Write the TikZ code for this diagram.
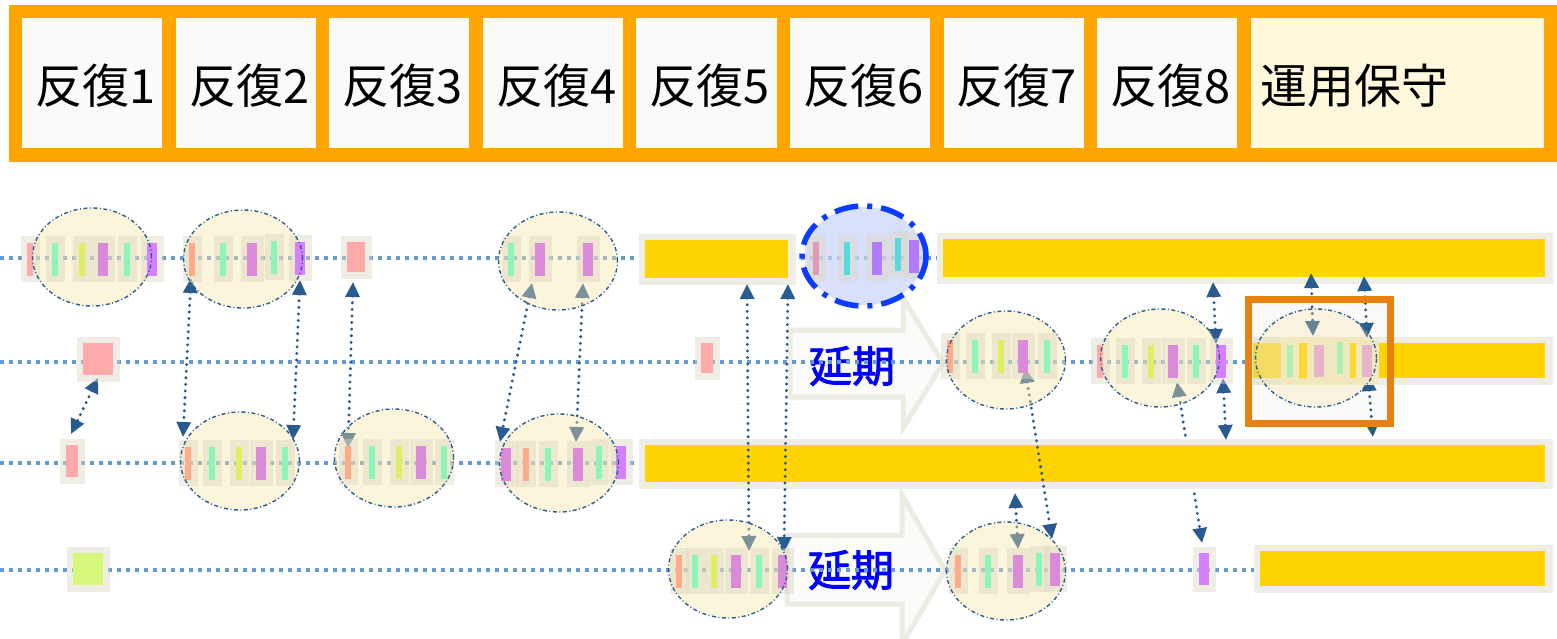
\documentclass[tikz,border=0pt]{standalone}
\usepackage{fontspec}
\newfontfamily\jp{Noto Sans CJK JP}
\newfontfamily\jpb[FakeBold=2]{Noto Sans CJK JP}
\usetikzlibrary{shapes.geometric,arrows.meta}
\definecolor{hdr}{HTML}{FFA500}
\definecolor{cellw}{HTML}{FAFAF8}
\definecolor{cellc}{HTML}{FFF8DC}
\definecolor{rowc}{HTML}{6699CC}
\definecolor{conc}{HTML}{2A5B8E}
\definecolor{ellc}{HTML}{F7E6A7}
\definecolor{ellb}{HTML}{2E5E8E}
\definecolor{bell}{HTML}{C9D3FA}
\definecolor{bellb}{HTML}{0A3CFF}
\definecolor{ibg}{HTML}{DCD8C4}
\definecolor{gbg}{HTML}{EEEEE6}
\definecolor{gold}{HTML}{FFD400}
\definecolor{afill}{HTML}{FBFBF9}
\definecolor{adraw}{HTML}{ECECE2}
\definecolor{obox}{HTML}{E98012}
\definecolor{pk}{HTML}{FFAAAA}
\definecolor{sal}{HTML}{FFAA88}
\definecolor{gr}{HTML}{8CF5B8}
\definecolor{ye}{HTML}{DCF062}
\definecolor{orc}{HTML}{DA8AD8}
\definecolor{pu}{HTML}{D580FF}
\definecolor{ygr}{HTML}{D6F87A}
\definecolor{bpk}{HTML}{E09AB4}
\definecolor{bcy}{HTML}{55DDDD}
\definecolor{bpu}{HTML}{B27AFF}
\definecolor{lorc}{HTML}{E0A0D8}
\definecolor{beig}{HTML}{EFE9CC}
\newcommand\itmx[5]{%
  \fill[ibg,fill opacity=.45] ({#3-#1/2-6.5},{#4-#2/2-6.5}) rectangle ({#3+#1/2+6.5},{#4+#2/2+6.5});
  \fill[#5] ({#3-#1/2},{#4-#2/2}) rectangle ({#3+#1/2},{#4+#2/2});}
\newcommand\itm[4]{\itmx{#1}{33}{#2}{#3}{#4}}
\newcommand\gbar[4]{%
  \fill[gbg] ({#1-6.5},{#2-6.5}) rectangle ({#3+7.5},{#4+6.5});
  \fill[gold] (#1,#2) rectangle (#3,#4);}
\newcommand\grp[4]{%
  \node[ellfill] (#1) at (#2,#3) {};
  #4
  \node[elldraw] at (#1) {};}
\begin{document}
\begin{tikzpicture}[x=1pt,y=-1pt,
  cell/.style={draw=hdr,line width=13.5pt,minimum height=143.5pt,inner sep=0pt,fill=cellw},
  hfont/.style={font=\jp\fontsize{47}{52}\selectfont,text=black,inner sep=0pt},
  ell/.style={ellipse,minimum width=119pt,minimum height=98pt,inner sep=0pt},
  ellfill/.style={ell,fill=ellc,fill opacity=.4},
  elldraw/.style={ell,draw=ellb,line width=1.4pt,dash pattern=on 4pt off 2.5pt on 1pt off 2.5pt},
  rowline/.style={draw=rowc,line width=4pt,dash pattern=on 4pt off 5pt},
  conn/.style={draw=conc,line width=3.3pt,line cap=round,dash pattern=on 0pt off 6.6pt,
    {Triangle[length=15pt,width=14pt]}-{Triangle[length=15pt,width=14pt]}},
  blk/.style={fill=afill,draw=adraw,line width=5pt,line join=miter},
  dlabel/.style={font=\jpb\fontsize{43}{46}\selectfont,text=blue,inner sep=0pt}]
\useasboundingbox (0,0) rectangle (1557,639);
\fill[white] (0,0) rectangle (1557,639);
% header
\node[cell,minimum width=153.56pt] (h1) at (92.3,83.25) {};
\node[cell,minimum width=153.56pt] (h2) at (245.8,83.25) {};
\node[cell,minimum width=153.56pt] (h3) at (399.4,83.25) {};
\node[cell,minimum width=153.56pt] (h4) at (553.0,83.25) {};
\node[cell,minimum width=153.56pt] (h5) at (706.5,83.25) {};
\node[cell,minimum width=153.56pt] (h6) at (860.1,83.25) {};
\node[cell,minimum width=153.56pt] (h7) at (1013.7,83.25) {};
\node[cell,minimum width=153.56pt] (h8) at (1167.2,83.25) {};
\node[cell,minimum width=306.5pt,fill=cellc] (h9) at (1397.25,83.25) {};
\node[hfont] (t1) at (96,86) {反復1};
\node[hfont] (t2) at (249.5,86) {反復2};
\node[hfont] (t3) at (403,86) {反復3};
\node[hfont] (t4) at (556.5,86) {反復4};
\node[hfont] (t5) at (710,86) {反復5};
\node[hfont] (t6) at (863.5,86) {反復6};
\node[hfont] (t7) at (1017,86) {反復7};
\node[hfont] (t8) at (1170.5,86) {反復8};
\node[hfont,anchor=west] (t9) at (1260,86) {運用保守};
% block arrows
\draw[blk] (790,330) -- (903,330) -- (903,298) -- (943,363) -- (903,428) -- (903,397) -- (790,397) -- cycle;
\draw[blk] (787,535) -- (902,535) -- (902,495) -- (945,570) -- (902,645) -- (902,604) -- (787,604) -- cycle;
\node[dlabel] (d1) at (852,366) {延期};
\node[dlabel] (d2) at (851,570) {延期};
% row lines
\coordinate (r1a) at (0,258); \coordinate (r1b) at (1557,258);
\coordinate (r2a) at (0,362); \coordinate (r2b) at (1557,362);
\coordinate (r3a) at (0,463); \coordinate (r3b) at (1557,463);
\coordinate (r4a) at (0,570); \coordinate (r4b) at (1557,570);
\draw[rowline] (r1a) -- (r1b);
\draw[rowline] (r2a) -- (r2b);
\draw[rowline] (r3a) -- (r3b);
\draw[rowline] (r4a) -- (r4b);
% connector under the bar
\coordinate (c11a) at (1177,382); \coordinate (c11b) at (1202,543);
\draw[conn] (c11a) -- (c11b);
% orange box fill
\fill[cellw] (1248.5,299.5) rectangle (1390.5,423.5);
% gold bars
\gbar{645}{240}{788}{278}
\gbar{943}{239}{1545}{277}
\gbar{1253}{343}{1545}{378}
\gbar{645}{445}{1545}{482}
\gbar{1260}{551}{1545}{586}
% connectors
\coordinate (c1a) at (98,378); \coordinate (c1b) at (71,434);
\coordinate (c2a) at (191,278); \coordinate (c2b) at (183,437);
\coordinate (c3a) at (300,280); \coordinate (c3b) at (293,440);
\coordinate (c4a) at (353,282); \coordinate (c4b) at (348,448);
\coordinate (c5a) at (532,283); \coordinate (c5b) at (500,442);
\coordinate (c6a) at (583,283); \coordinate (c6b) at (576,442);
\coordinate (c7a) at (747,284); \coordinate (c7b) at (749,551);
\coordinate (c8a) at (788,284); \coordinate (c8b) at (784,552);
\coordinate (c9a) at (1025,368); \coordinate (c9b) at (1052,539);
\coordinate (c10a) at (1015,493); \coordinate (c10b) at (1018,549);
\coordinate (c12a) at (1213,282); \coordinate (c12b) at (1216,344);
\coordinate (c13a) at (1223,378); \coordinate (c13b) at (1226,440);
\coordinate (c14a) at (1311,273); \coordinate (c14b) at (1313,336);
\coordinate (c15a) at (1364,276); \coordinate (c15b) at (1367,338);
\coordinate (c16a) at (1368,376); \coordinate (c16b) at (1373,437);
\foreach \n in {1,2,3,4,5,6,7,8,9,10,12,13,14,15,16} {\draw[conn] (c\n a) -- (c\n b);}
% row 1
\grp{e1}{92}{257}{\itm{6}{30}{259}{pk}\itm{6}{55}{259}{gr}\itm{6}{82}{259}{ye}\itm{10}{103}{259}{orc}\itm{6}{127}{259}{gr}\itm{10}{152}{259}{pu}}
\grp{e2}{243}{259}{\itm{6}{192}{259}{sal}\itm{6}{223}{259}{gr}\itm{10}{252}{259}{orc}\itm{6}{274}{257}{gr}\itm{10}{300}{258}{pu}}
\itmx{18}{30}{356}{257}{pk}
\grp{e3}{558}{261}{\itm{6}{511}{259}{gr}\itm{10}{540}{259}{orc}\itm{10}{588}{259}{orc}}
\node[ell,fill=bell,fill opacity=.7] (be) at (864,256) {};
\itm{6}{816}{258}{bpk}\itm{6}{847}{258}{bcy}\itm{10}{877}{258}{bpu}\itm{6}{898}{254}{bcy}\itm{10}{914}{256}{bpu}
\node[ell,minimum width=124pt,minimum height=100pt,draw=bellb,line width=5.5pt,dash pattern=on 24pt off 9pt on 5pt off 9pt] (beb) at (864,256) {};
% row 2
\itmx{30}{32}{98}{359}{pk}
\itmx{12}{30}{707}{358}{pk}
\grp{e4}{1006}{360}{\itm{6}{950}{356}{sal}\itm{6}{975}{356}{gr}\itm{6}{1001}{356}{ye}\itm{10}{1023}{356}{orc}\itm{6}{1047}{356}{gr}}
\grp{e5}{1160}{358}{\itm{6}{1100}{361}{pk}\itm{6}{1125}{361}{gr}\itm{6}{1151}{361}{ye}\itm{10}{1173}{361}{orc}\itm{6}{1196}{361}{gr}\itm{10}{1221}{361}{pu}}
% orange box group
\fill[beig] (1281,337) rectangle (1379,385);
\fill[ibg,fill opacity=.35] (1253,337) rectangle (1281,385);
\fill[gr] (1287,345) rectangle (1293,377);
\fill[gold] (1299,343) rectangle (1307,378);
\fill[lorc] (1314,345) rectangle (1324,377);
\fill[gr] (1337,342) rectangle (1343,374);
\fill[gold] (1350,343) rectangle (1356,378);
\fill[lorc] (1362,345) rectangle (1372,377);
\node[ell,fill=ellc,fill opacity=.3,minimum width=121pt] (e6) at (1316,358) {};
\node[elldraw,minimum width=121pt] at (e6) {};
\node[draw=obox,line width=7pt,minimum width=142pt,minimum height=124pt,inner sep=0pt] (ob) at (1319.5,361.5) {};
% row 3
\itmx{12}{32}{72}{461}{pk}
\grp{e7}{240}{461}{\itm{6}{188}{463}{sal}\itm{6}{212}{463}{gr}\itm{6}{239}{463}{ye}\itm{10}{261}{463}{orc}\itm{6}{285}{463}{gr}}
\grp{e8}{394}{458}{\itm{6}{348}{462}{sal}\itm{6}{372}{462}{gr}\itm{6}{399}{462}{ye}\itm{10}{421}{462}{orc}\itm{6}{444}{462}{gr}}
\grp{e9}{559}{463}{\itm{10}{506}{464}{orc}\itm{6}{526}{464}{sal}\itm{6}{548}{464}{gr}\itm{10}{578}{464}{orc}\itm{6}{599}{462}{gr}\itm{10}{621}{462}{pu}}
% row 4
\itmx{30}{32}{88}{569}{ygr}
\grp{e10}{728}{569}{\itm{6}{679}{571}{sal}\itm{6}{695}{571}{gr}\itm{6}{714}{571}{ye}\itm{10}{736}{571}{orc}\itm{6}{759}{571}{gr}\itm{9}{782.5}{571}{orc}}
\grp{e11}{1006}{571}{\itm{6}{958}{571}{sal}\itm{6}{988}{571}{gr}\itm{10}{1018}{571}{orc}\itm{6}{1039}{569}{gr}\itm{10}{1055}{569}{orc}}
\itmx{10}{32}{1204}{569}{pu}
\end{tikzpicture}
\end{document}
